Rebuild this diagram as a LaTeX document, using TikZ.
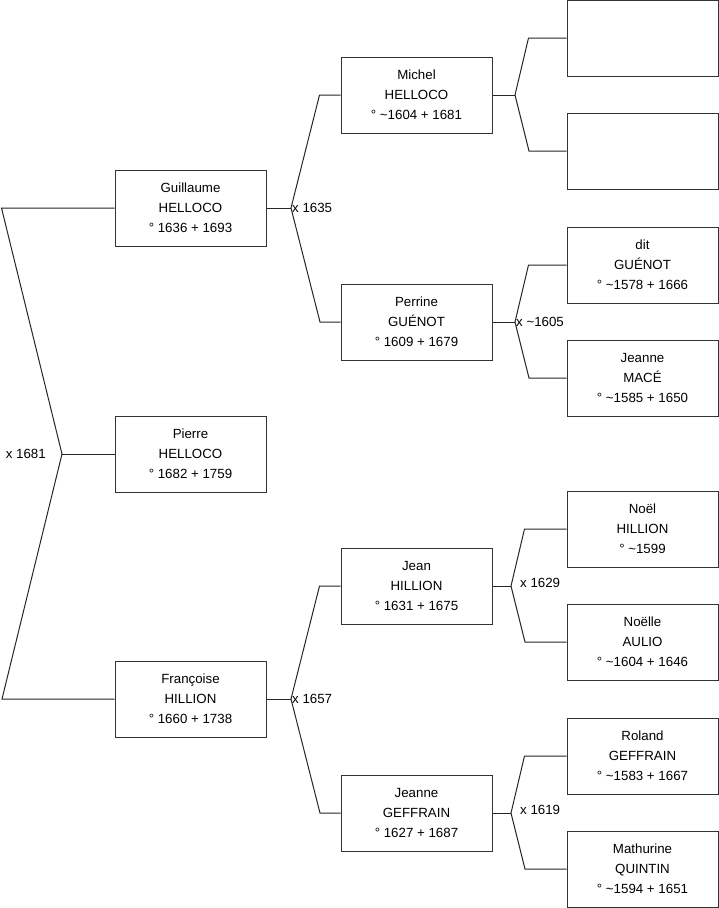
\documentclass[tikz,border=0pt]{standalone}
\usepackage{fontspec}
\setmainfont{Liberation Sans}
\usetikzlibrary{positioning}
\newcommand{\vers}{\textasciitilde}
\tikzset{
  person/.style={draw=black!80,line width=1pt,minimum width=151pt,
    minimum height=76pt,inner sep=0pt,align=center,
    font=\fontsize{13.3}{20}\selectfont},
  link/.style={draw=black!85,line width=1pt},
  wedding/.style={inner sep=0pt,font=\fontsize{13.3}{16}\selectfont},
}

\begin{document}
\begin{tikzpicture}[x=1pt,y=-1pt]
  \useasboundingbox (0,0) rectangle (719,908);

  % generation 1
  \node[person] (guil) at (190.5,208) {Guillaume\\HELLOCO\\° 1636 + 1693};
  \node[person] (pier) at (190.5,454) {Pierre\\HELLOCO\\° 1682 + 1759};
  \node[person] (fran) at (190.5,699) {Françoise\\HILLION\\° 1660 + 1738};

  % generation 2
  \node[person] (mich) at (416.5,95)  {Michel\\HELLOCO\\° \vers1604 + 1681};
  \node[person] (perr) at (416.5,322) {Perrine\\GUÉNOT\\° 1609 + 1679};
  \node[person] (jean) at (416.5,586) {Jean\\HILLION\\° 1631 + 1675};
  \node[person] (jgef) at (416.5,813) {Jeanne\\GEFFRAIN\\° 1627 + 1687};

  % generation 3
  \node[person] (mfa) at (642.5,38)  {};
  \node[person] (mmo) at (642.5,151) {};
  \node[person] (pfa) at (642.5,265) {dit\\GUÉNOT\\° \vers1578 + 1666};
  \node[person] (pmo) at (642.5,378) {Jeanne\\MACÉ\\° \vers1585 + 1650};
  \node[person] (jfa) at (642.5,529) {Noël\\HILLION\\° \vers1599};
  \node[person] (jmo) at (642.5,642) {Noëlle\\AULIO\\° \vers1604 + 1646};
  \node[person] (gfa) at (642.5,756) {Roland\\GEFFRAIN\\° \vers1583 + 1667};
  \node[person] (gmo) at (642.5,869) {Mathurine\\QUINTIN\\° \vers1594 + 1651};

  % fork points
  \coordinate (k0) at (62,454);
  \coordinate (k1) at (291,208);
  \coordinate (k2) at (291,699);
  \coordinate (k3) at (515,95);
  \coordinate (k4) at (515,322);
  \coordinate (k5) at (511,586);
  \coordinate (k6) at (511,813);

  \draw[link] (pier.west) -- (k0);
  \draw[link] (guil.west) -- ++(-113,0) -- (k0) -- ++(-60,245) -- (fran.west);

  \draw[link] (guil.east) -- (k1);
  \draw[link] (mich.west) -- ++(-21,0) -- (k1) -- ++(29,114) -- (perr.west);
  \draw[link] (fran.east) -- (k2);
  \draw[link] (jean.west) -- ++(-21,0) -- (k2) -- ++(29,114) -- (jgef.west);

  \draw[link] (mich.east) -- (k3);
  \draw[link] (mfa.west) -- ++(-38,0) -- (k3) -- ++(14,56) -- (mmo.west);
  \draw[link] (perr.east) -- (k4);
  \draw[link] (pfa.west) -- ++(-38,0) -- (k4) -- ++(14,56) -- (pmo.west);
  \draw[link] (jean.east) -- (k5);
  \draw[link] (jfa.west) -- ++(-42,0) -- (k5) -- ++(14,56) -- (jmo.west);
  \draw[link] (jgef.east) -- (k6);
  \draw[link] (gfa.west) -- ++(-42,0) -- (k6) -- ++(14,56) -- (gmo.west);

  % marriages
  \node[wedding,left=16pt of k0] (w0) {x 1681};
  \node[wedding,right=1pt of k1] (w1) {x 1635};
  \node[wedding,right=1pt of k2] (w2) {x 1657};
  \node[wedding,right=1pt of k4] (w4) {x \vers1605};
  \node[wedding,right=9pt of k5,yshift=3pt] (w5) {x 1629};
  \node[wedding,right=9pt of k6,yshift=3pt] (w6) {x 1619};
\end{tikzpicture}
\end{document}
